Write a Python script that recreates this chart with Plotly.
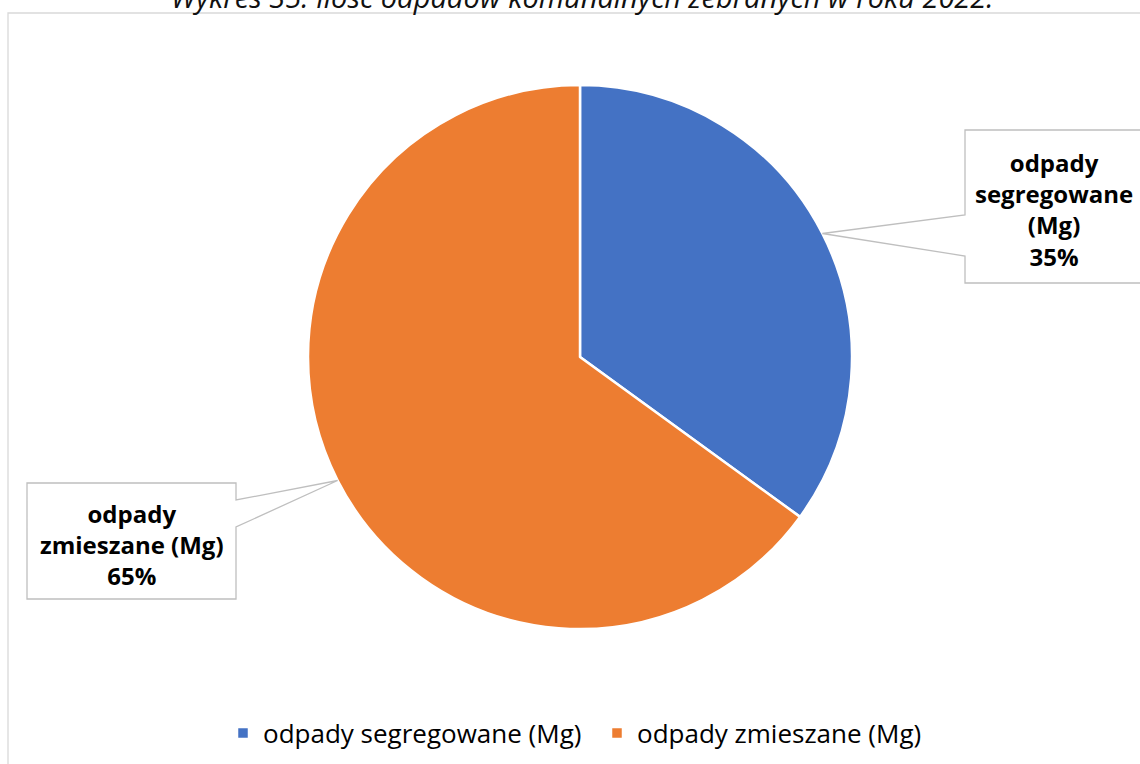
import math
import plotly.graph_objects as go

W, H = 1140, 764

categories = ["odpady segregowane (Mg)", "odpady zmieszane (Mg)"]
values = [35, 65]
colors = ["#4472C4", "#ED7D31"]
label_lines = [["odpady", "segregowane", "(Mg)"], ["odpady", "zmieszane (Mg)"]]
title_text = "Wykres 35. Ilość odpadów komunalnych zebranych w roku 2022."

# pie geometry in pixels
CX, CY, R = 580, 357, 272


def px(x):
    return x / W


def py(y):
    return 1 - y / H


fig = go.Figure()
fig.add_trace(go.Pie(
    labels=categories,
    values=values,
    marker=dict(colors=colors, line=dict(color="white", width=2.5)),
    sort=False,
    direction="clockwise",
    rotation=0,
    textinfo="none",
    hoverinfo="label+percent",
    domain=dict(x=[px(CX - R), px(CX + R)], y=[py(CY + R), py(CY - R)]),
))

# callout boxes: (left, top, right, bottom, attach side, attach y1, attach y2)
boxes = [
    (965, 130, 1150, 283, "left", 215, 256),
    (27, 483, 236, 599, "right", 500, 527),
]

total = sum(values)
cum = 0
shapes = []
annotations = []
for i, v in enumerate(values):
    mid = (cum + v / 2) / total * 2 * math.pi
    cum += v
    tx = CX + R * math.sin(mid)
    ty = CY - R * math.cos(mid)
    l, t, r, b, side, a1, a2 = boxes[i]
    if side == "left":
        pts = [(l, t), (r, t), (r, b), (l, b), (l, a2), (tx, ty), (l, a1)]
    else:
        pts = [(l, t), (r, t), (r, a1), (tx, ty), (r, a2), (r, b), (l, b)]
    path = "M " + " L ".join(f"{px(x):.5f},{py(y):.5f}" for x, y in pts) + " Z"
    shapes.append(dict(type="path", xref="paper", yref="paper", path=path,
                       fillcolor="white", line=dict(color="#BFBFBF", width=1.3)))
    pct = round(v / total * 100)
    text = "<br>".join(label_lines[i] + [f"{pct}%"])
    annotations.append(dict(
        x=px((l + min(r, 1143)) / 2), y=py((t + b) / 2 + 3), xref="paper", yref="paper",
        text=f"<b>{text}</b>", showarrow=False, xanchor="center", yanchor="middle",
        font=dict(family="Open Sans", size=24, color="#000000"),
    ))

# outer chart border
shapes.append(dict(type="rect", xref="paper", yref="paper",
                   x0=px(8), x1=px(1160), y0=py(780), y1=py(13),
                   line=dict(color="#D9D9D9", width=1.3), fillcolor="rgba(0,0,0,0)",
                   layer="below"))

annotations.append(dict(
    x=px(582), y=py(18), xref="paper", yref="paper", text=f"<i>{title_text}</i>",
    showarrow=False, xanchor="center", yanchor="bottom",
    font=dict(family="Open Sans", size=29, color="#111111"),
))

fig.update_layout(
    width=W, height=H,
    margin=dict(l=0, r=0, t=0, b=0),
    paper_bgcolor="white",
    plot_bgcolor="white",
    shapes=shapes,
    annotations=annotations,
    showlegend=True,
    legend=dict(orientation="h", x=px(223), xanchor="left", y=py(733), yanchor="middle",
                font=dict(family="Open Sans", size=26, color="#000000"),
                itemwidth=30, entrywidth=329, entrywidthmode="pixels",
                traceorder="normal"),
)

fig.write_html("out.html")
